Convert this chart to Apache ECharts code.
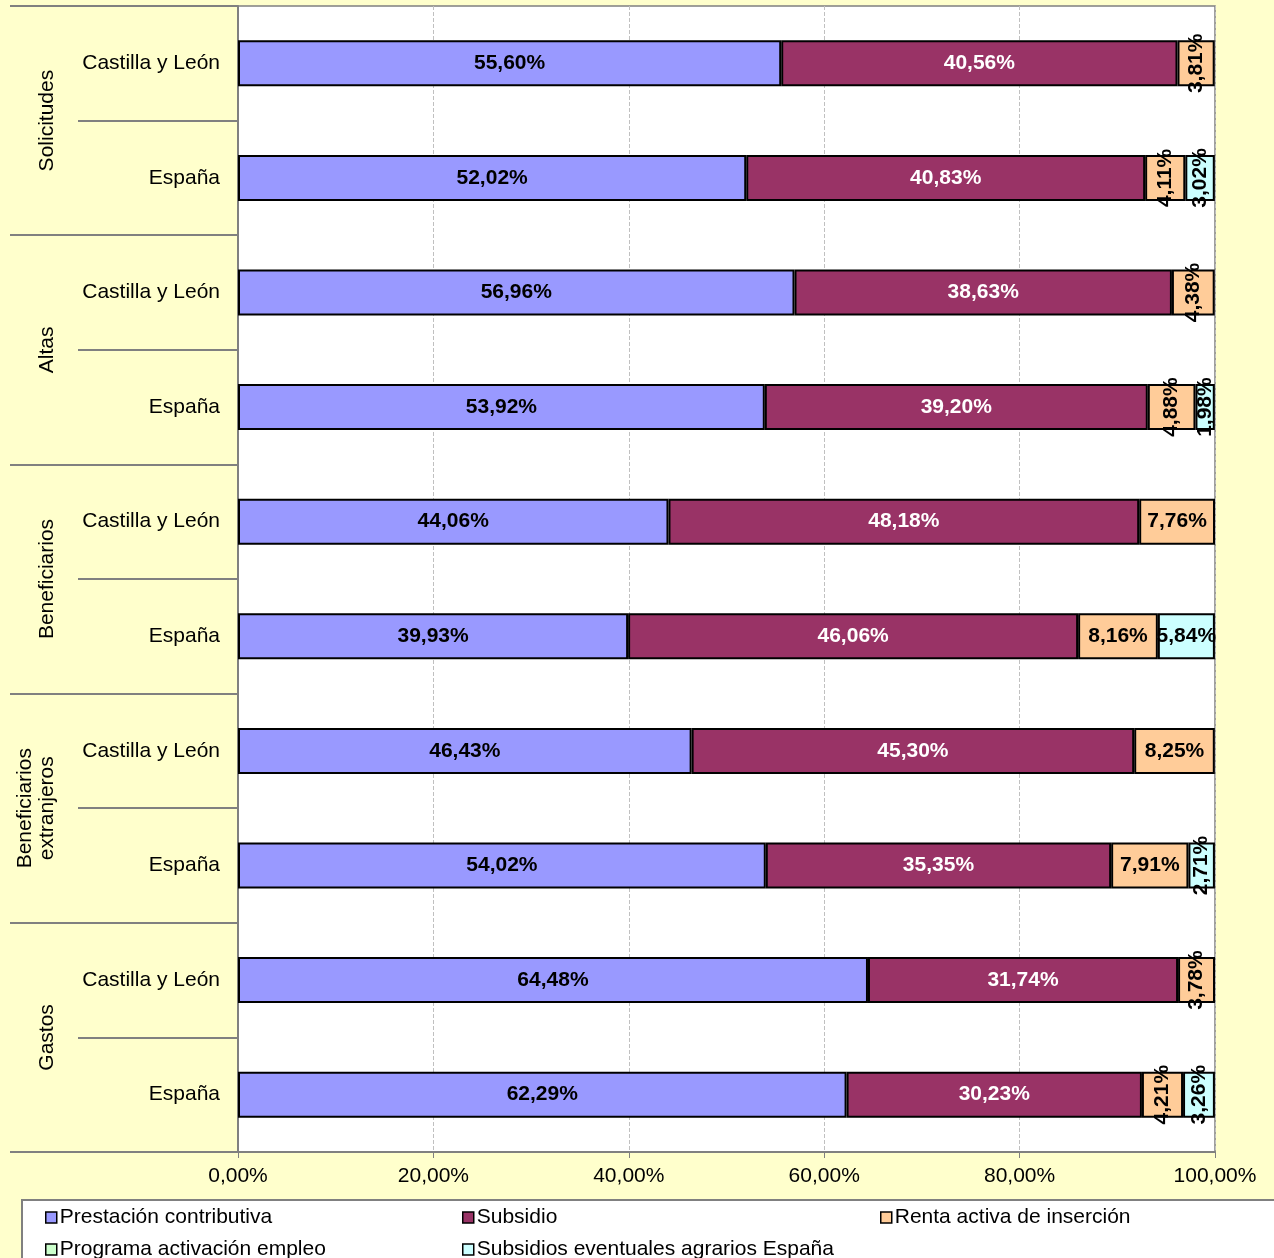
<!DOCTYPE html>
<html>
<head>
<meta charset="utf-8">
<script src="https://cdn.jsdelivr.net/npm/echarts@6/dist/echarts.min.js"></script>
<style>html,body{margin:0;padding:0;background:#ffffcc}#chart{width:1274px;height:1258px}</style>
</head>
<body>
<div id="chart"></div>
<script>
var rows = ['Castilla y León','España','Castilla y León','España','Castilla y León','España','Castilla y León','España','Castilla y León','España'];
var groups = ['Solicitudes','Altas','Beneficiarios','Beneficiarios\nextranjeros','Gastos'];
var seriesNames = ['Prestación contributiva','Subsidio','Renta activa de inserción','Programa activación empleo','Subsidios eventuales agrarios España'];
var colors = ['#9999ff','#993366','#ffcc99','#ccffcc','#ccffff'];
var prestacion = [55.60,52.02,56.96,53.92,44.06,39.93,46.43,54.02,64.48,62.29];
var subsidio = [40.56,40.83,38.63,39.20,48.18,46.06,45.30,35.35,31.74,30.23];
var renta = [3.81,4.11,4.38,4.88,7.76,8.16,8.25,7.91,3.78,4.21];
var programa = [0,0,0,0,0,0,0,0,0,0];
var eventuales = [0,3.02,0,1.98,0,5.84,0,2.71,0,3.26];

function fmt(v){ return v.toFixed(2).replace('.', ',') + '%'; }

function mk(name, arr, idx){
	return {
		name: name, type: 'bar', stack: 'all', barWidth: 46,
		itemStyle: {color: colors[idx], borderColor: '#000', borderWidth: 2},
		data: arr.map(function(v){
			if (v === 0) return null;
			var o = {value: v};
			if (v < 5) { o.label = {rotate: 90}; }
			return o;
		}),
		label: {
			show: true, position: 'inside',
			color: idx == 1 ? '#fff' : '#000',
			fontWeight: 'bold', fontSize: 21, fontFamily: 'Liberation Sans, Arial',
			formatter: function(p){ return fmt(p.value); }
		}
	};
}

var chart = echarts.init(document.getElementById('chart'));
var legendBase = {orient: 'horizontal', itemWidth: 11, itemHeight: 11, icon: 'rect',
	itemStyle: {borderColor: '#000', borderWidth: 1.5},
	textStyle: {fontSize: 21, fontFamily: 'Liberation Sans, Arial', color: '#000', padding: [0,0,0,-2]}};
function lg(name, left, top){
	return Object.assign({}, legendBase, {data: [name], left: left, top: top});
}
chart.setOption({
	backgroundColor: '#ffffcc',
	animation: false,
	color: colors,
	graphic: [{type: 'rect', shape: {x: 22, y: 1200, width: 1260, height: 70},
		style: {fill: '#fff', stroke: '#808080', lineWidth: 2}, z: -1}],
	legend: [
		lg(seriesNames[0], 40, 1202), lg(seriesNames[1], 457, 1202), lg(seriesNames[2], 875, 1202),
		lg(seriesNames[3], 40, 1234), lg(seriesNames[4], 457, 1234)
	],
	grid: {left: 238, right: 59, top: 6, bottom: 106, show: true, backgroundColor: '#fff', borderColor: '#808080', borderWidth: 1.5},
	xAxis: {
		type: 'value', min: 0, max: 100, interval: 20,
		axisLine: {show: true, lineStyle: {color: '#808080', width: 2}},
		axisTick: {show: true, length: 6, lineStyle: {color: '#808080'}},
		splitLine: {show: true, lineStyle: {color: '#c0c0c0', type: 'dashed'}},
		axisLabel: {fontSize: 21, color: '#000', fontFamily: 'Liberation Sans, Arial', margin: 14,
			formatter: function(v){ return fmt(v); }}
	},
	yAxis: [{
		type: 'category', data: rows, inverse: true,
		axisLine: {show: true, lineStyle: {color: '#808080', width: 2}},
		axisTick: {show: true, length: 160, lineStyle: {color: '#808080', width: 2}},
		axisLabel: {fontSize: 21, color: '#000', fontFamily: 'Liberation Sans, Arial', margin: 18}
	}, {
		type: 'category', data: groups, inverse: true, position: 'left', offset: 160,
		axisLine: {show: false},
		axisTick: {show: true, length: 68, lineStyle: {color: '#808080', width: 2}},
		axisLabel: {fontSize: 21, color: '#000', fontFamily: 'Liberation Sans, Arial', rotate: 90,
			margin: 20, align: 'center', lineHeight: 22}
	}],
	series: [mk(seriesNames[0], prestacion, 0), mk(seriesNames[1], subsidio, 1), mk(seriesNames[2], renta, 2),
		mk(seriesNames[3], programa, 3), mk(seriesNames[4], eventuales, 4)]
});
</script>
</body>
</html>
